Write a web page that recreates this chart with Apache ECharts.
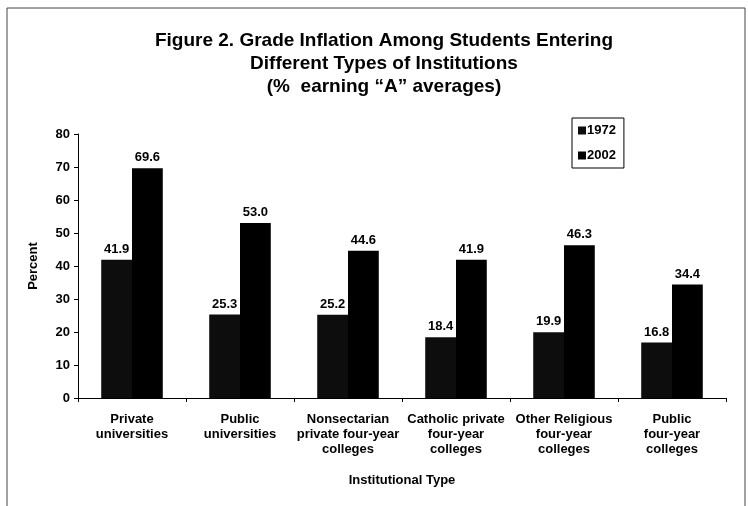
<!DOCTYPE html>
<html>
<head>
<meta charset="utf-8">
<script src="https://cdn.jsdelivr.net/npm/echarts@6/dist/echarts.min.js"></script>
<style>
  html, body { margin: 0; padding: 0; background: #fff; }
  #main { width: 748px; height: 506px; }
</style>
</head>
<body>
<div id="main"></div>
<script>
  var categories = [
    'Private\nuniversities',
    'Public\nuniversities',
    'Nonsectarian\nprivate four-year\ncolleges',
    'Catholic private\nfour-year\ncolleges',
    'Other Religious\nfour-year\ncolleges',
    'Public\nfour-year\ncolleges'
  ];
  var values1972 = [41.9, 25.3, 25.2, 18.4, 19.9, 16.8];
  var values2002 = [69.6, 53.0, 44.6, 41.9, 46.3, 34.4];
  var yTicks = [0, 10, 20, 30, 40, 50, 60, 70, 80];

  var font = 'Liberation Sans, Arial, sans-serif';
  var chart = echarts.init(document.getElementById('main'));

  var barLabel = {
    show: true,
    position: 'top',
    distance: 4,
    color: '#000',
    fontFamily: font,
    fontWeight: 'bold',
    fontSize: 13,
    formatter: function (p) { return p.value.toFixed(1); }
  };

  var option = {
    animation: false,
    backgroundColor: '#fff',
    title: {
      text: 'Figure 2. Grade Inflation Among Students Entering\nDifferent Types of Institutions\n(%  earning \u201cA\u201d averages)',
      left: 379,
      textAlign: 'center',
      top: 24,
      textStyle: {
        fontFamily: font,
        fontWeight: 'bold',
        fontSize: 19,
        lineHeight: 23,
        color: '#000'
      }
    },
    graphic: [{
      type: 'rect',
      shape: { x: 7, y: 8, width: 738, height: 520 },
      style: { fill: 'none', stroke: '#444', lineWidth: 1 },
      silent: true
    }],
    legend: {
      orient: 'vertical',
      left: 572,
      top: 118,
      itemWidth: 8,
      itemHeight: 8,
      itemGap: 12,
      padding: [6, 8, 6, 6],
      borderColor: '#000',
      borderWidth: 1,
      textStyle: {
        fontFamily: font,
        fontWeight: 'bold',
        fontSize: 13,
        color: '#000',
        padding: [0, 0, 0, -4]
      },
      data: [
        { name: '1972', icon: 'rect' },
        { name: '2002', icon: 'rect' }
      ]
    },
    grid: {
      left: 78,
      right: 22,
      top: 134,
      bottom: 108
    },
    xAxis: {
      type: 'category',
      data: categories,
      name: 'Institutional Type',
      nameLocation: 'middle',
      nameGap: 76,
      nameTextStyle: {
        fontFamily: font,
        fontWeight: 'bold',
        fontSize: 13,
        color: '#000'
      },
      axisLine: { lineStyle: { color: '#000', width: 1 } },
      axisTick: { show: true, length: 4, lineStyle: { color: '#000' } },
      axisLabel: {
        interval: 0,
        margin: 14,
        fontFamily: font,
        fontWeight: 'bold',
        fontSize: 13,
        lineHeight: 15,
        color: '#000'
      }
    },
    yAxis: {
      type: 'value',
      min: 0,
      max: yTicks[yTicks.length - 1],
      interval: yTicks[1] - yTicks[0],
      name: 'Percent',
      nameLocation: 'middle',
      nameGap: 38,
      nameTextStyle: {
        fontFamily: font,
        fontWeight: 'bold',
        fontSize: 13,
        color: '#000'
      },
      axisLine: { show: true, lineStyle: { color: '#000', width: 1 } },
      axisTick: { show: true, length: 4, lineStyle: { color: '#000' } },
      splitLine: { show: false },
      axisLabel: {
        margin: 8,
        fontFamily: font,
        fontWeight: 'bold',
        fontSize: 13,
        color: '#000'
      }
    },
    series: [{
      name: '1972',
      type: 'bar',
      data: values1972,
      barGap: '0%',
      barCategoryGap: '43%',
      itemStyle: { color: '#0d0d0d' },
      label: barLabel
    }, {
      name: '2002',
      type: 'bar',
      data: values2002,
      itemStyle: { color: '#000' },
      label: barLabel
    }]
  };

  chart.setOption(option);
</script>
</body>
</html>
